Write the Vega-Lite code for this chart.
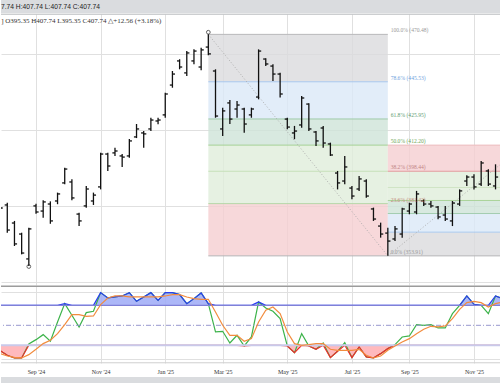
{
"$schema": "https://vega.github.io/schema/vega-lite/v6.json",
"padding": 0,
"spacing": 0,
"background": "white",
"config": {"view": {"stroke": null}},
"datasets": {
"bars": [
{"d":"2024-07-29","o":394.4,"h":395.9,"l":377.5,"c":379.1},
{"d":"2024-08-05","o":380.7,"h":381.9,"l":366.1,"c":367.5},
{"d":"2024-08-12","o":371.2,"h":372.3,"l":359.1,"c":360.2},
{"d":"2024-08-19","o":365.4,"h":366.1,"l":354.7,"c":355.4},
{"d":"2024-08-26","o":352.3,"h":368.7,"l":348.6,"c":368.1},
{"d":"2024-09-02","o":380.2,"h":381.4,"l":376.1,"c":377.0},
{"d":"2024-09-09","o":377.5,"h":383.2,"l":374.0,"c":382.3},
{"d":"2024-09-16","o":381.2,"h":382.6,"l":370.8,"c":372.3},
{"d":"2024-09-23","o":382.8,"h":387.2,"l":381.1,"c":386.5},
{"d":"2024-09-30","o":392.3,"h":400.3,"l":391.6,"c":399.6},
{"d":"2024-10-07","o":392.8,"h":394.2,"l":383.2,"c":384.4},
{"d":"2024-10-14","o":375.9,"h":376.6,"l":369.6,"c":372.3},
{"d":"2024-10-21","o":380.2,"h":390.7,"l":379.3,"c":389.1},
{"d":"2024-10-28","o":382.8,"h":387.2,"l":380.7,"c":385.9},
{"d":"2024-11-04","o":390.2,"h":408.2,"l":388.9,"c":407.5},
{"d":"2024-11-11","o":407.5,"h":408.2,"l":398.6,"c":401.2},
{"d":"2024-11-18","o":408.1,"h":410.8,"l":406.5,"c":409.1},
{"d":"2024-11-25","o":406.5,"h":407.5,"l":400.7,"c":405.9},
{"d":"2024-12-02","o":406.5,"h":415.4,"l":405.6,"c":414.4},
{"d":"2024-12-09","o":416.5,"h":423.3,"l":415.9,"c":420.7},
{"d":"2024-12-16","o":418.6,"h":419.6,"l":410.8,"c":418.1},
{"d":"2024-12-23","o":420.7,"h":426.6,"l":419.6,"c":425.4},
{"d":"2024-12-30","o":424.9,"h":426.6,"l":423.2,"c":425.4},
{"d":"2025-01-06","o":428.1,"h":439.8,"l":426.6,"c":439.1},
{"d":"2025-01-13","o":443.8,"h":451.2,"l":442.4,"c":449.6},
{"d":"2025-01-20","o":456.5,"h":457.4,"l":452.1,"c":453.3},
{"d":"2025-01-27","o":450.2,"h":461.7,"l":448.6,"c":460.7},
{"d":"2025-02-03","o":456.5,"h":462.6,"l":454.7,"c":461.7},
{"d":"2025-02-10","o":453.3,"h":463.5,"l":451.6,"c":462.3},
{"d":"2025-02-17","o":463.8,"h":470.48,"l":459.5,"c":460.2},
{"d":"2025-02-24","o":451.2,"h":452.1,"l":426.6,"c":427.5},
{"d":"2025-03-03","o":420.7,"h":431.9,"l":417.0,"c":430.2},
{"d":"2025-03-10","o":434.4,"h":435.9,"l":423.3,"c":425.9},
{"d":"2025-03-17","o":431.2,"h":435.4,"l":426.6,"c":433.3},
{"d":"2025-03-24","o":431.2,"h":431.9,"l":418.7,"c":423.3},
{"d":"2025-03-31","o":428.1,"h":431.9,"l":426.6,"c":431.2},
{"d":"2025-04-07","o":437.5,"h":462.6,"l":436.3,"c":461.7},
{"d":"2025-04-14","o":457.5,"h":457.9,"l":453.8,"c":454.9},
{"d":"2025-04-21","o":453.8,"h":454.7,"l":445.9,"c":449.6},
{"d":"2025-04-28","o":449.6,"h":450.3,"l":437.2,"c":439.1},
{"d":"2025-05-05","o":425.9,"h":426.6,"l":420.5,"c":421.7},
{"d":"2025-05-12","o":418.6,"h":422.3,"l":415.3,"c":419.6},
{"d":"2025-05-19","o":422.8,"h":438.1,"l":421.4,"c":437.0},
{"d":"2025-05-26","o":433.8,"h":434.2,"l":419.6,"c":420.7},
{"d":"2025-06-02","o":419.1,"h":419.6,"l":411.7,"c":414.4},
{"d":"2025-06-09","o":421.2,"h":422.3,"l":410.8,"c":413.3},
{"d":"2025-06-16","o":412.8,"h":413.5,"l":406.5,"c":407.0},
{"d":"2025-06-23","o":397.5,"h":398.6,"l":388.9,"c":392.3},
{"d":"2025-06-30","o":393.3,"h":406.5,"l":391.6,"c":400.7},
{"d":"2025-07-07","o":389.6,"h":390.7,"l":383.7,"c":385.4},
{"d":"2025-07-14","o":389.1,"h":395.9,"l":388.1,"c":394.4},
{"d":"2025-07-21","o":393.3,"h":394.2,"l":384.5,"c":385.4},
{"d":"2025-07-28","o":378.6,"h":379.3,"l":372.3,"c":373.3},
{"d":"2025-08-04","o":369.6,"h":371.4,"l":363.5,"c":365.4},
{"d":"2025-08-11","o":365.9,"h":368.7,"l":353.91,"c":361.7},
{"d":"2025-08-18","o":362.8,"h":369.6,"l":361.7,"c":368.1},
{"d":"2025-08-25","o":365.4,"h":379.3,"l":363.5,"c":378.6},
{"d":"2025-09-01","o":377.5,"h":381.9,"l":375.8,"c":381.2},
{"d":"2025-09-08","o":377.0,"h":388.1,"l":375.8,"c":386.5},
{"d":"2025-09-15","o":382.8,"h":383.7,"l":380.2,"c":381.2},
{"d":"2025-09-22","o":381.2,"h":382.8,"l":379.3,"c":380.2},
{"d":"2025-09-29","o":379.6,"h":380.2,"l":373.2,"c":374.4},
{"d":"2025-10-06","o":375.4,"h":380.2,"l":372.3,"c":373.3},
{"d":"2025-10-13","o":372.3,"h":382.8,"l":369.6,"c":381.7},
{"d":"2025-10-20","o":381.2,"h":388.9,"l":380.2,"c":388.1},
{"d":"2025-10-27","o":393.3,"h":396.3,"l":390.7,"c":395.4},
{"d":"2025-11-03","o":395.4,"h":396.8,"l":388.9,"c":390.2},
{"d":"2025-11-10","o":391.7,"h":403.8,"l":390.7,"c":402.8},
{"d":"2025-11-17","o":398.6,"h":399.5,"l":390.7,"c":391.7},
{"d":"2025-11-24","o":390.7,"h":402.1,"l":388.9,"c":395.4}
],
"stoch": [
{"d":"2024-07-22","k":20,"dd":14},
{"d":"2024-07-29","k":12,"dd":7.5},
{"d":"2024-08-05","k":5,"dd":4},
{"d":"2024-08-12","k":1,"dd":2},
{"d":"2024-08-19","k":1,"dd":1},
{"d":"2024-08-26","k":22,"dd":6},
{"d":"2024-09-02","k":28.5,"dd":14},
{"d":"2024-09-09","k":36,"dd":22.5},
{"d":"2024-09-16","k":26,"dd":27.5},
{"d":"2024-09-23","k":55,"dd":37.5},
{"d":"2024-09-30","k":82.5,"dd":51},
{"d":"2024-10-07","k":65,"dd":66},
{"d":"2024-10-14","k":47.5,"dd":66},
{"d":"2024-10-21","k":69,"dd":63.5},
{"d":"2024-10-28","k":71,"dd":64},
{"d":"2024-11-04","k":99,"dd":81},
{"d":"2024-11-11","k":91,"dd":91},
{"d":"2024-11-18","k":92.5,"dd":94},
{"d":"2024-11-25","k":94,"dd":94},
{"d":"2024-12-02","k":99,"dd":92.5},
{"d":"2024-12-09","k":86,"dd":92.5},
{"d":"2024-12-16","k":92.5,"dd":92.5},
{"d":"2024-12-23","k":99,"dd":92.5},
{"d":"2024-12-30","k":87.5,"dd":92.5},
{"d":"2025-01-06","k":99,"dd":94},
{"d":"2025-01-13","k":99,"dd":96},
{"d":"2025-01-20","k":96,"dd":96},
{"d":"2025-01-27","k":82.5,"dd":92.5},
{"d":"2025-02-03","k":90,"dd":90},
{"d":"2025-02-10","k":98.5,"dd":89},
{"d":"2025-02-17","k":82.5,"dd":89},
{"d":"2025-02-24","k":40,"dd":70},
{"d":"2025-03-03","k":41,"dd":50},
{"d":"2025-03-10","k":23.5,"dd":35},
{"d":"2025-03-17","k":35,"dd":35},
{"d":"2025-03-24","k":19,"dd":26},
{"d":"2025-03-31","k":32.5,"dd":30},
{"d":"2025-04-07","k":85,"dd":55},
{"d":"2025-04-14","k":76,"dd":72.5},
{"d":"2025-04-21","k":71,"dd":77.5},
{"d":"2025-04-28","k":60,"dd":67.5},
{"d":"2025-05-05","k":19,"dd":40},
{"d":"2025-05-12","k":9,"dd":22.5},
{"d":"2025-05-19","k":37.5,"dd":20},
{"d":"2025-05-26","k":19,"dd":21},
{"d":"2025-06-02","k":14,"dd":22.5},
{"d":"2025-06-09","k":23.5,"dd":22.5},
{"d":"2025-06-16","k":1.5,"dd":14},
{"d":"2025-06-23","k":11,"dd":12.5},
{"d":"2025-06-30","k":24,"dd":12.5},
{"d":"2025-07-07","k":1.5,"dd":12.5},
{"d":"2025-07-14","k":17.5,"dd":14},
{"d":"2025-07-21","k":2.5,"dd":5},
{"d":"2025-07-28","k":1,"dd":1},
{"d":"2025-08-04","k":7.5,"dd":4},
{"d":"2025-08-11","k":15,"dd":12.5},
{"d":"2025-08-18","k":21,"dd":19},
{"d":"2025-08-25","k":32.5,"dd":25},
{"d":"2025-09-01","k":34,"dd":30},
{"d":"2025-09-08","k":51,"dd":37.5},
{"d":"2025-09-15","k":50,"dd":44},
{"d":"2025-09-22","k":51,"dd":48.5},
{"d":"2025-09-29","k":46,"dd":47.5},
{"d":"2025-10-06","k":46,"dd":49},
{"d":"2025-10-13","k":67.5,"dd":60},
{"d":"2025-10-20","k":80,"dd":74},
{"d":"2025-10-27","k":94,"dd":84},
{"d":"2025-11-03","k":81.5,"dd":86},
{"d":"2025-11-10","k":80,"dd":84},
{"d":"2025-11-17","k":67.5,"dd":77.5},
{"d":"2025-11-24","k":94,"dd":82.5},
{"d":"2025-12-01","k":90,"dd":85}
],
"bands": [
{"d1":"2025-02-17","d2":"2025-08-11","hi":470.48,"lo":445.53,"b":"gray"},
{"d1":"2025-02-17","d2":"2025-08-11","hi":445.53,"lo":425.95,"b":"blue"},
{"d1":"2025-02-17","d2":"2025-08-11","hi":425.95,"lo":412.2,"b":"teal"},
{"d1":"2025-02-17","d2":"2025-08-11","hi":412.2,"lo":381.42,"b":"green"},
{"d1":"2025-02-17","d2":"2025-08-11","hi":381.42,"lo":353.91,"b":"pink"},
{"d1":"2025-08-11","d2":"2025-12-31","hi":412.2,"lo":398.44,"b":"pink"},
{"d1":"2025-08-11","d2":"2025-12-31","hi":398.44,"lo":383.06,"b":"green"},
{"d1":"2025-08-11","d2":"2025-12-31","hi":383.06,"lo":376.2,"b":"teal"},
{"d1":"2025-08-11","d2":"2025-12-31","hi":376.2,"lo":366.4,"b":"blue"},
{"d1":"2025-08-11","d2":"2025-12-31","hi":366.4,"lo":353.91,"b":"gray"}
],
"levels": [
{"d1":"2025-02-17","d2":"2025-08-11","p":470.48,"c":"l100"},
{"d1":"2025-02-17","d2":"2025-08-11","p":445.53,"c":"l786"},
{"d1":"2025-02-17","d2":"2025-08-11","p":425.95,"c":"l618"},
{"d1":"2025-02-17","d2":"2025-08-11","p":412.2,"c":"l50"},
{"d1":"2025-02-17","d2":"2025-08-11","p":398.44,"c":"l382"},
{"d1":"2025-02-17","d2":"2025-08-11","p":381.42,"c":"l236"},
{"d1":"2025-02-17","d2":"2025-08-11","p":353.91,"c":"l0"},
{"d1":"2025-08-11","d2":"2025-12-31","p":412.2,"c":"r0"},
{"d1":"2025-08-11","d2":"2025-12-31","p":398.44,"c":"r236"},
{"d1":"2025-08-11","d2":"2025-12-31","p":389.9,"c":"r382"},
{"d1":"2025-08-11","d2":"2025-12-31","p":383.06,"c":"r50"},
{"d1":"2025-08-11","d2":"2025-12-31","p":376.2,"c":"r618"},
{"d1":"2025-08-11","d2":"2025-12-31","p":366.4,"c":"r786"},
{"d1":"2025-08-11","d2":"2025-12-31","p":353.91,"c":"l0"}
],
"diag": [
{"id":1,"d":"2025-02-17","p":470.48},
{"id":1,"d":"2025-08-11","p":353.91},
{"id":2,"d":"2025-08-11","p":353.91},
{"id":2,"d":"2025-12-22","p":412.2}
],
"fiblab": [
{"d":"2025-08-11","p":470.48,"txt":"100.0% (470.48)","c":"t100"},
{"d":"2025-08-11","p":445.53,"txt":"78.6% (445.53)","c":"t786"},
{"d":"2025-08-11","p":425.95,"txt":"61.8% (425.95)","c":"t618"},
{"d":"2025-08-11","p":412.2,"txt":"50.0% (412.20)","c":"t50"},
{"d":"2025-08-11","p":398.44,"txt":"38.2% (398.44)","c":"t382"},
{"d":"2025-08-11","p":381.42,"txt":"23.6% (381.42)","c":"t236"},
{"d":"2025-08-11","p":353.91,"txt":"0.0% (353.91)","c":"t0"}
],
"anchors": [
{"d":"2025-02-17","p":471.6},
{"d":"2024-08-26","p":348.3}
],
"info": [
{"d":"2024-07-30","p":477.3,"txt":"] O395.35 H407.74 L395.35 C407.74 △+12.56 (+3.18%)"}
]
},
"vconcat": [
{
"width": 500, "height": 13,
"view": {"fill": "#dadcdf", "stroke": null},
"data": {"values": [{"pos": 0, "txt": "7.74 H:407.74 L:407.74 C:407.74"}]},
"mark": {"type": "text", "align": "left", "baseline": "middle", "font": "Liberation Sans", "fontSize": 6.7, "color": "#222"},
"encoding": {
"x": {"field": "pos", "type": "quantitative", "scale": {"domain": [0, 1]}, "axis": null},
"text": {"field": "txt"}
}
},
{
"width": 500, "height": 271,
"resolve": {"scale": {"color": "independent"}},
"layer": [
{
"data": {"name": "bands"},
"mark": {"type": "rect", "clip": true, "opacity": 0.8},
"encoding": {
"x": {"field": "d1", "type": "temporal",
"scale": {"type": "utc", "domain": [{"year": 2024, "month": "jul", "date": 29, "hours": 21, "utc": true}, {"year": 2025, "month": "nov", "date": 29, "hours": 8, "utc": true}]},
"axis": {"grid": true, "gridColor": "#e0e0e0", "labels": false, "ticks": false, "domain": false, "title": null, "minExtent": 0, "maxExtent": 0,
"values": [{"year":2024,"month":"sep","date":2,"utc":true},{"year":2024,"month":"nov","date":4,"utc":true},{"year":2025,"month":"jan","date":6,"utc":true},{"year":2025,"month":"mar","date":3,"utc":true},{"year":2025,"month":"may","date":5,"utc":true},{"year":2025,"month":"jul","date":7,"utc":true},{"year":2025,"month":"sep","date":1,"utc":true},{"year":2025,"month":"nov","date":3,"utc":true}]}},
"x2": {"field": "d2"},
"y": {"field": "hi", "type": "quantitative", "scale": {"domain": [338.58, 481.2], "zero": false, "nice": false},
"axis": {"grid": true, "gridColor": "#e0e0e0", "labels": false, "ticks": false, "domain": false, "title": null, "minExtent": 0, "maxExtent": 0,
"values": [340,350,360,370,380,390,400,410,420,430,440,450,460,470,480]}},
"y2": {"field": "lo"},
"color": {"field": "b", "type": "nominal", "legend": null,
"scale": {"domain": ["gray","blue","teal","green","pink"], "range": ["#dbdbdd","#dbe8f8","#cee4d8","#e0eedb","#f5ced1"]}}
}
},
{
"data": {"values": [{"v": 481.1}]},
"mark": {"type": "rule", "color": "#b6b8bb", "strokeWidth": 1},
"encoding": {"y": {"field": "v", "type": "quantitative"}}
},
{
"data": {"name": "levels"},
"mark": {"type": "rule", "clip": true, "strokeWidth": 1},
"encoding": {
"x": {"field": "d1", "type": "temporal"},
"x2": {"field": "d2"},
"y": {"field": "p", "type": "quantitative"},
"color": {"field": "c", "type": "nominal", "legend": null,
"scale": {"domain": ["l100","l786","l618","l50","l382","l236","l0","r0","r236","r382","r50","r618","r786"],
"range": ["#b9b9bb","#a9c8ee","#9fcaa9","#a6d196","#c6e0b9","#b7d8a8","#b4b4b6","#ecbcbe","#e29a9d","#cfe4c4","#a9d39a","#a3cdb0","#a9c9ee"]}}
}
},
{
"data": {"name": "diag"},
"mark": {"type": "line", "clip": true, "color": "#a8a8a8", "strokeWidth": 0.9, "strokeDash": [1, 2]},
"encoding": {
"x": {"field": "d", "type": "temporal"},
"y": {"field": "p", "type": "quantitative"},
"detail": {"field": "id", "type": "nominal"}
}
},
{
"data": {"name": "bars"},
"mark": {"type": "rule", "clip": true, "color": "#111", "strokeWidth": 1.3},
"encoding": {
"x": {"field": "d", "type": "temporal"},
"y": {"field": "l", "type": "quantitative"},
"y2": {"field": "h"}
}
},
{
"data": {"name": "bars"},
"mark": {"type": "rule", "clip": true, "color": "#111", "strokeWidth": 1.3, "xOffset": -2.6},
"encoding": {
"x": {"field": "d", "type": "temporal"},
"x2": {"field": "d"},
"y": {"field": "o", "type": "quantitative"}
}
},
{
"data": {"name": "bars"},
"mark": {"type": "rule", "clip": true, "color": "#111", "strokeWidth": 1.3, "x2Offset": 2.6},
"encoding": {
"x": {"field": "d", "type": "temporal"},
"x2": {"field": "d"},
"y": {"field": "c", "type": "quantitative"}
}
},
{
"data": {"name": "anchors"},
"mark": {"type": "point", "clip": true, "filled": false, "color": "#222", "size": 14, "strokeWidth": 1},
"encoding": {
"x": {"field": "d", "type": "temporal"},
"y": {"field": "p", "type": "quantitative"}
}
},
{
"data": {"name": "fiblab"},
"mark": {"type": "text", "align": "left", "baseline": "alphabetic", "dx": 2.8, "dy": -2, "font": "Liberation Serif", "fontSize": 5.6},
"encoding": {
"x": {"field": "d", "type": "temporal"},
"y": {"field": "p", "type": "quantitative"},
"text": {"field": "txt"},
"color": {"field": "c", "type": "nominal", "legend": null,
"scale": {"domain": ["t100","t786","t618","t50","t382","t236","t0"], "range": ["#9a9a9a","#6f9fdc","#5e9c72","#6fa75a","#c28585","#c48c7c","#999999"]}}
}
},
{
"data": {"name": "info"},
"mark": {"type": "text", "align": "left", "baseline": "middle", "font": "Liberation Serif", "fontSize": 7, "color": "#333"},
"encoding": {
"x": {"field": "d", "type": "temporal"},
"y": {"field": "p", "type": "quantitative"},
"text": {"field": "txt"}
}
}
]
},
{
"width": 500, "height": 77,
"data": {"name": "stoch"},
"transform": [
{"calculate": "max(datum.k, 80)", "as": "kh"},
{"calculate": "min(datum.k, 20)", "as": "kl"}
],
"layer": [
{
"mark": {"type": "area", "clip": true, "color": "#9eaaf7", "opacity": 0.85},
"encoding": {
"x": {"field": "d", "type": "temporal",
"scale": {"type": "utc", "domain": [{"year": 2024, "month": "jul", "date": 29, "hours": 21, "utc": true}, {"year": 2025, "month": "nov", "date": 29, "hours": 8, "utc": true}]},
"axis": {"grid": true, "gridColor": "#e0e0e0", "labels": true, "ticks": false, "domain": false, "title": null, "format": "%b '%y",
"labelFont": "Liberation Serif", "labelFontSize": 6, "labelColor": "#333", "labelPadding": 5, "minExtent": 13, "maxExtent": 13,
"values": [{"year":2024,"month":"sep","date":2,"utc":true},{"year":2024,"month":"nov","date":4,"utc":true},{"year":2025,"month":"jan","date":6,"utc":true},{"year":2025,"month":"mar","date":3,"utc":true},{"year":2025,"month":"may","date":5,"utc":true},{"year":2025,"month":"jul","date":7,"utc":true},{"year":2025,"month":"sep","date":1,"utc":true},{"year":2025,"month":"nov","date":3,"utc":true}]}},
"y": {"field": "kh", "type": "quantitative", "scale": {"domain": [-6.55, 108.95], "zero": false, "nice": false},
"axis": {"grid": true, "gridColor": "#e0e0e0", "labels": false, "ticks": false, "domain": false, "title": null, "minExtent": 0, "maxExtent": 0, "values": [0, 100]}},
"y2": {"datum": 80}
}
},
{
"mark": {"type": "area", "clip": true, "color": "#ffb1b6", "opacity": 0.9},
"encoding": {
"x": {"field": "d", "type": "temporal"},
"y": {"field": "kl", "type": "quantitative"},
"y2": {"datum": 20}
}
},
{
"mark": {"type": "line", "clip": true, "color": "#3cb34a", "strokeWidth": 1.2},
"encoding": {
"x": {"field": "d", "type": "temporal"},
"y": {"field": "k", "type": "quantitative"}
}
},
{
"mark": {"type": "line", "clip": true, "color": "#2a3cf2", "strokeWidth": 1.2},
"encoding": {
"x": {"field": "d", "type": "temporal"},
"y": {"field": "kh", "type": "quantitative"}
}
},
{
"mark": {"type": "line", "clip": true, "color": "#f02a2a", "strokeWidth": 1.2},
"encoding": {
"x": {"field": "d", "type": "temporal"},
"y": {"field": "kl", "type": "quantitative"}
}
},
{
"data": {"values": [{"v": 80}]},
"mark": {"type": "rule", "color": "#7f80d8", "strokeWidth": 1.2},
"encoding": {"y": {"field": "v", "type": "quantitative"}}
},
{
"data": {"values": [{"v": 50}]},
"mark": {"type": "rule", "color": "#8c8cc8", "strokeWidth": 0.9, "strokeDash": [5, 2, 1, 2]},
"encoding": {"y": {"field": "v", "type": "quantitative"}}
},
{
"data": {"values": [{"v": 20}]},
"mark": {"type": "rule", "color": "#c9c9ea", "strokeWidth": 2},
"encoding": {"y": {"field": "v", "type": "quantitative"}}
},
{
"data": {"values": [{"v": 108.5}]},
"mark": {"type": "rule", "color": "#9c9c9c", "strokeWidth": 1.4},
"encoding": {"y": {"field": "v", "type": "quantitative"}}
},
{
"data": {"values": [{"v": -6.2}]},
"mark": {"type": "rule", "color": "#cfcfcf", "strokeWidth": 1},
"encoding": {"y": {"field": "v", "type": "quantitative"}}
},
{
"mark": {"type": "line", "clip": true, "color": "#f28c3e", "strokeWidth": 1.2},
"encoding": {
"x": {"field": "d", "type": "temporal"},
"y": {"field": "dd", "type": "quantitative"}
}
}
]
},
{
"width": 500, "height": 10,
"view": {"fill": "#dadcdf", "stroke": null},
"data": {"values": [{"t": ""}]},
"mark": {"type": "text"},
"encoding": {"text": {"field": "t"}}
}
]
}
